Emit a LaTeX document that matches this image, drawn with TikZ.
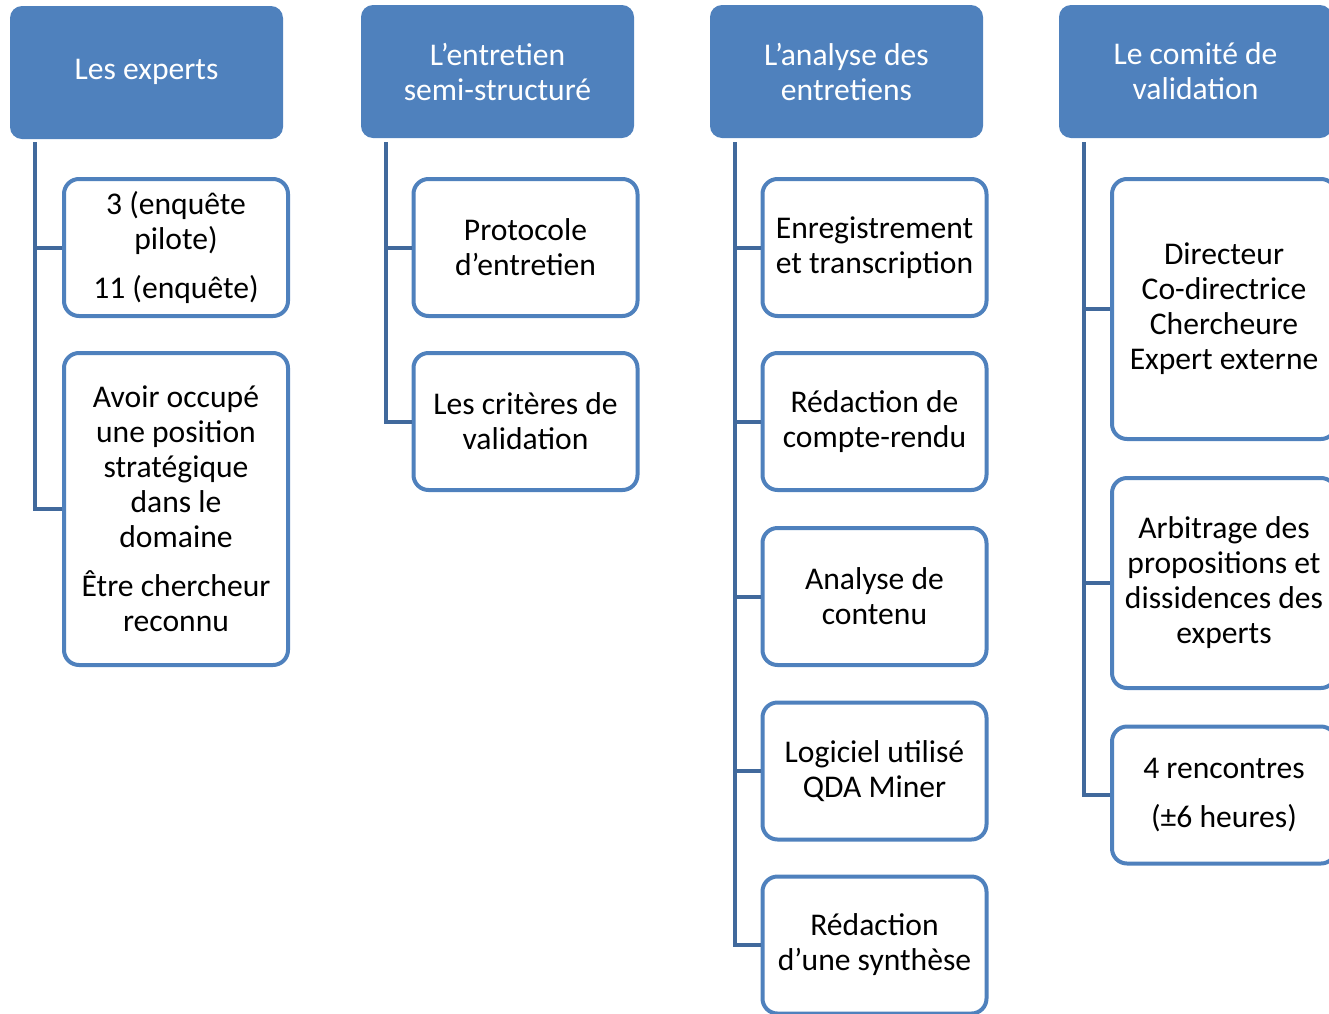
\documentclass[tikz,border=0pt]{standalone}
\usepackage{fontspec}
\setmainfont{Carlito}
\definecolor{boxblue}{HTML}{4F81BD}
\definecolor{lineblue}{HTML}{41699C}

\begin{document}
\begin{tikzpicture}[x=0.5pt, y=-0.5pt,
	font=\fontsize{15.8}{17.5}\selectfont,
	head/.style={fill=boxblue, text=white, rounded corners=6pt, align=center,
		minimum width=136.5pt, minimum height=66.5pt, inner sep=0pt},
	item/.style={draw=boxblue, line width=2pt, fill=white, rounded corners=7.5pt, align=center,
		minimum width=112pt, minimum height=#1, inner sep=0pt},
	item/.default=68.5pt,
	link/.style={draw=lineblue, line width=2pt, line join=miter, to path={|- (\tikztotarget)}}]
\useasboundingbox (0,0) rectangle (1329,1013);
\clip (0,0) rectangle (1329,1013);

% headers
\node  (1)[head] at (146.5,72.5)  {\strut Les experts};
\node  (2)[head] at (497.5,71.5)  {L’entretien\\semi-structuré};
\node  (3)[head] at (846.5,71.5)  {L’analyse des\\entretiens};
\node  (4)[head] at (1195.5,71.5) {Le comité de\\validation};

% Les experts
\node  (11)[item] at (176,247.5) {3 (enquête\\pilote)\\[7pt]11 (enquête)};
\node  (12)[item=156pt] at (176,509) {Avoir occupé\\une position\\stratégique\\dans le\\domaine\\[7pt]Être chercheur\\reconnu};

% L'entretien
\node  (21)[item] at (525.5,247.5) {Protocole\\d’entretien};
\node  (22)[item] at (525.5,421.5) {Les critères de\\validation};

% L'analyse
\node  (31)[item] at (874.5,247.5) {Enregistrement\\et transcription};
\node  (32)[item] at (874.5,421.5) {Rédaction de\\compte-rendu};
\node  (33)[item] at (874.5,596.5) {Analyse de\\contenu};
\node  (34)[item] at (874.5,771)   {Logiciel utilisé\\QDA Miner};
\node  (35)[item] at (874.5,945)   {Rédaction\\d’une synthèse};

% Le comite
\node  (41)[item=130pt] at (1224,309) {Directeur\\Co-directrice\\Chercheure\\Expert externe};
\node  (42)[item=105pt] at (1224,583) {Arbitrage des\\propositions et\\dissidences des\\experts};
\node  (43)[item] at (1224,795)   {4 rencontres\\[7pt](±6 heures)};

\coordinate (1a) at (35,142);
\coordinate (2a) at (386,142);
\coordinate (3a) at (735,142);
\coordinate (4a) at (1084,142);

\path 	(1a)edge[link](11.west)
		(1a)edge[link](12.west)
		(2a)edge[link](21.west)
		(2a)edge[link](22.west)
		(3a)edge[link](31.west)
		(3a)edge[link](32.west)
		(3a)edge[link](33.west)
		(3a)edge[link](34.west)
		(3a)edge[link](35.west)
		(4a)edge[link](41.west)
		(4a)edge[link](42.west)
		(4a)edge[link](43.west);
\end{tikzpicture}
\end{document}
